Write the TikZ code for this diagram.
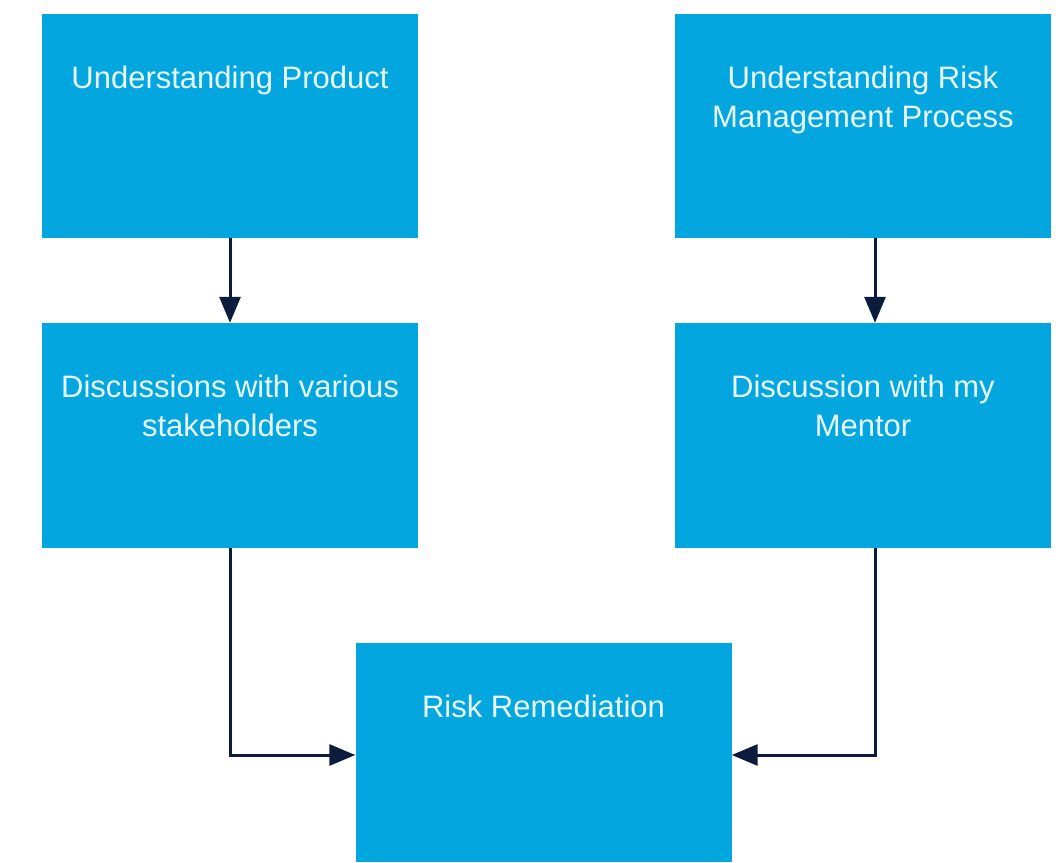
\documentclass[tikz,border=0pt]{standalone}
\usepackage{fontspec}
\setmainfont{Liberation Sans}
\usetikzlibrary{arrows.meta}
\definecolor{boxblue}{HTML}{04A6DF}
\definecolor{txtwhite}{HTML}{E8F8FD}
\definecolor{arrownavy}{HTML}{0C1C3C}
\newcommand{\boxtext}[2]{\parbox[c][#1][t]{376pt}{\centering\rule{0pt}{74pt}#2}}
\tikzset{
  flowbox/.style={fill=boxblue, draw=none, inner sep=0pt, text=txtwhite,
    font=\fontsize{31}{39}\selectfont},
  flowarrow/.style={draw=arrownavy, line width=3pt,
    -{Triangle[length=26pt,width=21pt]}},
}
\begin{document}
\begin{tikzpicture}[x=1pt,y=-1pt]
\useasboundingbox[fill=white] (0,0) rectangle (1059,862);
\node[flowbox] (b1) at (230,126) {\boxtext{224pt}{Understanding Product}};
\node[flowbox] (b2) at (863,126) {\boxtext{224pt}{Understanding Risk\\Management Process}};
\node[flowbox] (b3) at (230,435.5) {\boxtext{225pt}{Discussions with various\\stakeholders}};
\node[flowbox] (b4) at (863,435.5) {\boxtext{225pt}{Discussion with my\\Mentor}};
\node[flowbox] (b5) at (543.5,752.5) {\boxtext{219pt}{Risk Remediation}};
\draw[flowarrow] (b1.south) -- (b3.north);
\draw[flowarrow] ([xshift=12pt]b2.south) -- ([xshift=12pt]b4.north);
\draw[flowarrow] (b3.south) |- ([yshift=-2.5pt]b5.west);
\draw[flowarrow] ([xshift=12pt]b4.south) |- ([yshift=-2.5pt]b5.east);
\end{tikzpicture}
\end{document}
